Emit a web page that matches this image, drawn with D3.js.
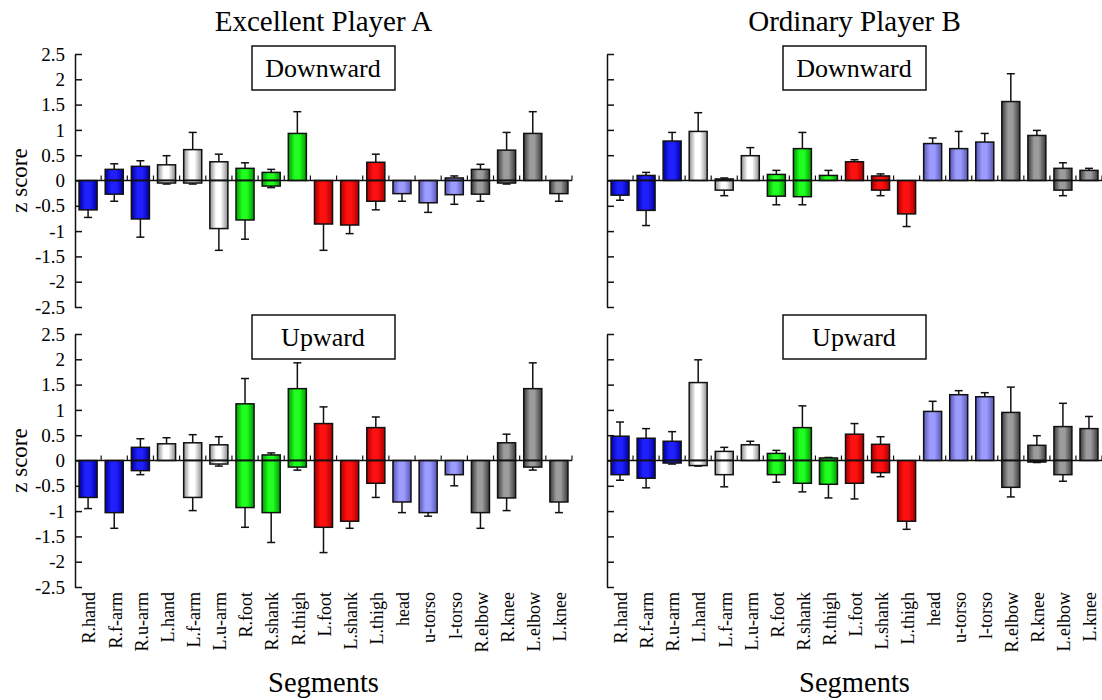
<!DOCTYPE html>
<html>
<head>
<meta charset="utf-8">
<script src="https://cdn.jsdelivr.net/npm/d3@7"></script>
<style>
  body { margin: 0; background: #fff; }
  svg text { font-family: "Liberation Serif", "Times New Roman", Times, serif; fill: #000; }
</style>
</head>
<body>
<div id="chart"></div>
<script>
// segments on the x axis
var segments = ["R.hand","R.f-arm","R.u-arm","L.hand","L.f-arm","L.u-arm",
  "R.foot","R.shank","R.thigh","L.foot","L.shank","L.thigh",
  "head","u-torso","l-torso","R.elbow","R.knee","L.elbow","L.knee"];
var segGroup = ["blue","blue","blue","white","white","white",
  "green","green","green","red","red","red",
  "lblue","lblue","lblue","gray","gray","gray","gray"];
var yTicks = [-2.5,-2,-1.5,-1,-0.5,0,0.5,1,1.5,2,2.5];

// Excellent player A, downward
var aDownPos    = [0,0.22,0.28,0.31,0.61,0.37,0.24,0.16,0.93,0,0,0.36,0,0,0.05,0.22,0.60,0.93,0];
var aDownPosSd  = [0,0.11,0.11,0.18,0.34,0.15,0.11,0.06,0.43,0,0,0.16,0,0,0.04,0.10,0.35,0.43,0];
var aDownNeg    = [-0.58,-0.27,-0.76,-0.05,-0.05,-0.95,-0.78,-0.11,0,-0.86,-0.88,-0.41,-0.26,-0.44,-0.28,-0.27,-0.05,0,-0.26];
var aDownNegSd  = [0.15,0.14,0.36,0.02,0.02,0.43,0.38,0.03,0,0.52,0.17,0.17,0.15,0.19,0.19,0.14,0.02,0,0.15];
// Excellent player A, upward
var aUpPos      = [0,0,0.26,0.33,0.35,0.31,1.12,0.11,1.42,0.73,0,0.65,0,0,0,0,0.35,1.42,0];
var aUpPosSd    = [0,0,0.17,0.12,0.16,0.16,0.50,0.04,0.51,0.33,0,0.21,0,0,0,0,0.17,0.51,0];
var aUpNeg      = [-0.73,-1.03,-0.2,0,-0.73,-0.07,-0.93,-1.03,-0.13,-1.32,-1.2,-0.45,-0.82,-1.03,-0.28,-1.03,-0.74,-0.13,-0.82];
var aUpNegSd    = [0.22,0.31,0.08,0,0.26,0.04,0.39,0.59,0.06,0.5,0.14,0.28,0.21,0.07,0.22,0.31,0.25,0.06,0.21];
// Ordinary player B, downward
var bDownPos    = [0,0.1,0.78,0.97,0.03,0.49,0.12,0.63,0.1,0.37,0.09,0,0.73,0.63,0.76,1.56,0.89,0.24,0.2];
var bDownPosSd  = [0,0.06,0.17,0.37,0.02,0.16,0.08,0.32,0.1,0.04,0.04,0,0.11,0.34,0.17,0.55,0.1,0.11,0.04];
var bDownNeg    = [-0.29,-0.59,0,0,-0.19,0,-0.31,-0.32,0,0,-0.19,-0.66,0,0,0,0,0,-0.19,0];
var bDownNegSd  = [0.1,0.3,0,0,0.11,0,0.17,0.16,0,0,0.11,0.25,0,0,0,0,0,0.11,0];
// Ordinary player B, upward
var bUpPos      = [0.48,0.44,0.38,1.54,0.18,0.31,0.14,0.65,0.05,0.52,0.32,0,0.97,1.3,1.26,0.95,0.3,0.67,0.63];
var bUpPosSd    = [0.28,0.19,0.19,0.45,0.08,0.07,0.06,0.43,0.01,0.21,0.15,0,0.2,0.08,0.08,0.5,0.19,0.46,0.24];
var bUpNeg      = [-0.28,-0.35,-0.05,-0.1,-0.28,0,-0.28,-0.45,-0.47,-0.45,-0.24,-1.2,0,0,0,-0.53,-0.03,-0.28,0];
var bUpNegSd    = [0.11,0.19,0.02,0.01,0.24,0,0.15,0.17,0.27,0.31,0.08,0.16,0,0,0,0.19,0.01,0.13,0];

// bar shading: dark edge, light middle
var palette = {
  blue:  ["#00009c", "#2020ff"],
  white: ["#8c8c8c", "#ffffff"],
  green: ["#009a00", "#20ff20"],
  red:   ["#aa0000", "#ff1010"],
  lblue: ["#5656b4", "#9c9cff"],
  gray:  ["#3a3a3a", "#9c9c9c"]
};

var width = 1102, height = 700;
var svg = d3.select("#chart").append("svg")
  .attr("width", width).attr("height", height);

var defs = svg.append("defs");
Object.keys(palette).forEach(function(k) {
  var g = defs.append("linearGradient").attr("id", "grad-" + k)
    .attr("x1", "0%").attr("x2", "100%").attr("y1", "0%").attr("y2", "0%");
  g.append("stop").attr("offset", "0%").attr("stop-color", palette[k][0]);
  g.append("stop").attr("offset", "35%").attr("stop-color", palette[k][1]);
  g.append("stop").attr("offset", "60%").attr("stop-color", palette[k][1]);
  g.append("stop").attr("offset", "100%").attr("stop-color", palette[k][0]);
});

var cols = [{x0: 75, x1: 572, title: "Excellent Player A", labels: true},
            {x0: 607, x1: 1102, title: "Ordinary Player B", labels: false}];
var rows = [{top: 54, bottom: 307, name: "Downward", boxTop: 46},
            {top: 334, bottom: 587, name: "Upward", boxTop: 315}];

var panels = [
  {c: 0, r: 0, pos: aDownPos, posSd: aDownPosSd, neg: aDownNeg, negSd: aDownNegSd},
  {c: 0, r: 1, pos: aUpPos, posSd: aUpPosSd, neg: aUpNeg, negSd: aUpNegSd},
  {c: 1, r: 0, pos: bDownPos, posSd: bDownPosSd, neg: bDownNeg, negSd: bDownNegSd},
  {c: 1, r: 1, pos: bUpPos, posSd: bUpPosSd, neg: bUpNeg, negSd: bUpNegSd}
];

panels.forEach(function(p) {
  var col = cols[p.c], row = rows[p.r];
  var x = d3.scaleBand().domain(segments).range([col.x0, col.x1])
    .paddingInner(0.31).paddingOuter(0.155);
  var y = d3.scaleLinear().domain([-2.5, 2.5]).range([row.bottom, row.top]);
  var g = svg.append("g");

  // y axis, ticks pointing inward
  var yAxis = d3.axisRight(y).tickValues(yTicks).tickSize(7).tickSizeOuter(0).tickFormat("");
  var ya = g.append("g").attr("transform", "translate(" + col.x0 + ",0)").call(yAxis);
  ya.select(".domain").attr("stroke", "#111").attr("stroke-width", 1.5);
  ya.selectAll(".tick line").attr("stroke", "#111").attr("stroke-width", 1.5);

  if (col.labels) {
    g.selectAll(".ylab").data(yTicks).enter().append("text")
      .attr("x", col.x0 - 10).attr("y", function(d) { return y(d); })
      .attr("dy", "0.35em").attr("text-anchor", "end")
      .style("font-size", "19px")
      .text(function(d) { return d; });
    g.append("text")
      .attr("transform", "translate(19," + y(0) + ") rotate(-90)")
      .attr("text-anchor", "middle").attr("dy", "0.35em")
      .style("font-size", "23px")
      .text("z score");
  }

  // bars
  var rowsData = segments.map(function(s, i) {
    return {seg: s, grp: segGroup[i], pos: p.pos[i], posSd: p.posSd[i], neg: p.neg[i], negSd: p.negSd[i]};
  });

  // error bars (one-sided, away from zero)
  var errs = [];
  rowsData.forEach(function(d) {
    if (d.pos !== 0) errs.push({seg: d.seg, v: d.pos, e: d.pos + d.posSd});
    if (d.neg !== 0) errs.push({seg: d.seg, v: d.neg, e: d.neg - d.negSd});
  });
  var cx = function(d) { return x(d.seg) + x.bandwidth() / 2; };
  g.selectAll(".err").data(errs).enter().append("line")
    .attr("x1", cx).attr("x2", cx)
    .attr("y1", function(d) { return y(d.v); }).attr("y2", function(d) { return y(d.e); })
    .attr("stroke", "#111").attr("stroke-width", 1.5);
  g.selectAll(".cap").data(errs).enter().append("line")
    .attr("x1", function(d) { return cx(d) - 4; }).attr("x2", function(d) { return cx(d) + 4; })
    .attr("y1", function(d) { return y(d.e); }).attr("y2", function(d) { return y(d.e); })
    .attr("stroke", "#111").attr("stroke-width", 1.5);

  var bars = [];
  rowsData.forEach(function(d) {
    if (d.pos !== 0) bars.push({seg: d.seg, grp: d.grp, v: d.pos});
    if (d.neg !== 0) bars.push({seg: d.seg, grp: d.grp, v: d.neg});
  });
  g.selectAll(".bar").data(bars).enter().append("rect")
    .attr("x", function(d) { return x(d.seg); })
    .attr("width", x.bandwidth())
    .attr("y", function(d) { return Math.min(y(d.v), y(0)); })
    .attr("height", function(d) { return Math.abs(y(d.v) - y(0)); })
    .attr("fill", function(d) { return "url(#grad-" + d.grp + ")"; })
    .attr("stroke", "#111").attr("stroke-width", 1.5);

  // zero line with category separators
  g.append("line").attr("x1", col.x0).attr("x2", col.x1)
    .attr("y1", y(0)).attr("y2", y(0))
    .attr("stroke", "#111").attr("stroke-width", 1.5);
  var step = x.step();
  g.selectAll(".sep").data(segments).enter().append("line")
    .attr("x1", function(d) { return x(d) - x.paddingOuter() * step + step; })
    .attr("x2", function(d) { return x(d) - x.paddingOuter() * step + step; })
    .attr("y1", y(0)).attr("y2", y(0) - 5)
    .attr("stroke", "#111").attr("stroke-width", 1.2);

  // panel label box
  var bx = (col.x0 + col.x1) / 2 - 0.5;
  var by = row.boxTop;
  g.append("rect").attr("x", bx - 71).attr("y", by).attr("width", 143).attr("height", 44)
    .attr("fill", "#fff").attr("stroke", "#111").attr("stroke-width", 1.5);
  g.append("text").attr("x", bx).attr("y", by + 22).attr("dy", "0.35em")
    .attr("text-anchor", "middle").style("font-size", "26px")
    .text(row.name);

  // segment labels under the lower panels
  if (p.r === 1) {
    g.selectAll(".xlab").data(segments).enter().append("text")
      .attr("transform", function(d) { return "translate(" + (x(d) + x.bandwidth() / 2 + 1) + "," + 592 + ") rotate(-90)"; })
      .attr("text-anchor", "end").attr("dy", "0.35em")
      .style("font-size", "18px")
      .text(function(d) { return d; });
    g.append("text").attr("x", (col.x0 + col.x1) / 2).attr("y", 692)
      .attr("text-anchor", "middle").style("font-size", "28.5px")
      .text("Segments");
  } else {
    g.append("text").attr("x", (col.x0 + col.x1) / 2).attr("y", 31)
      .attr("text-anchor", "middle").style("font-size", "29px")
      .text(col.title);
  }
});
</script>
</body>
</html>
